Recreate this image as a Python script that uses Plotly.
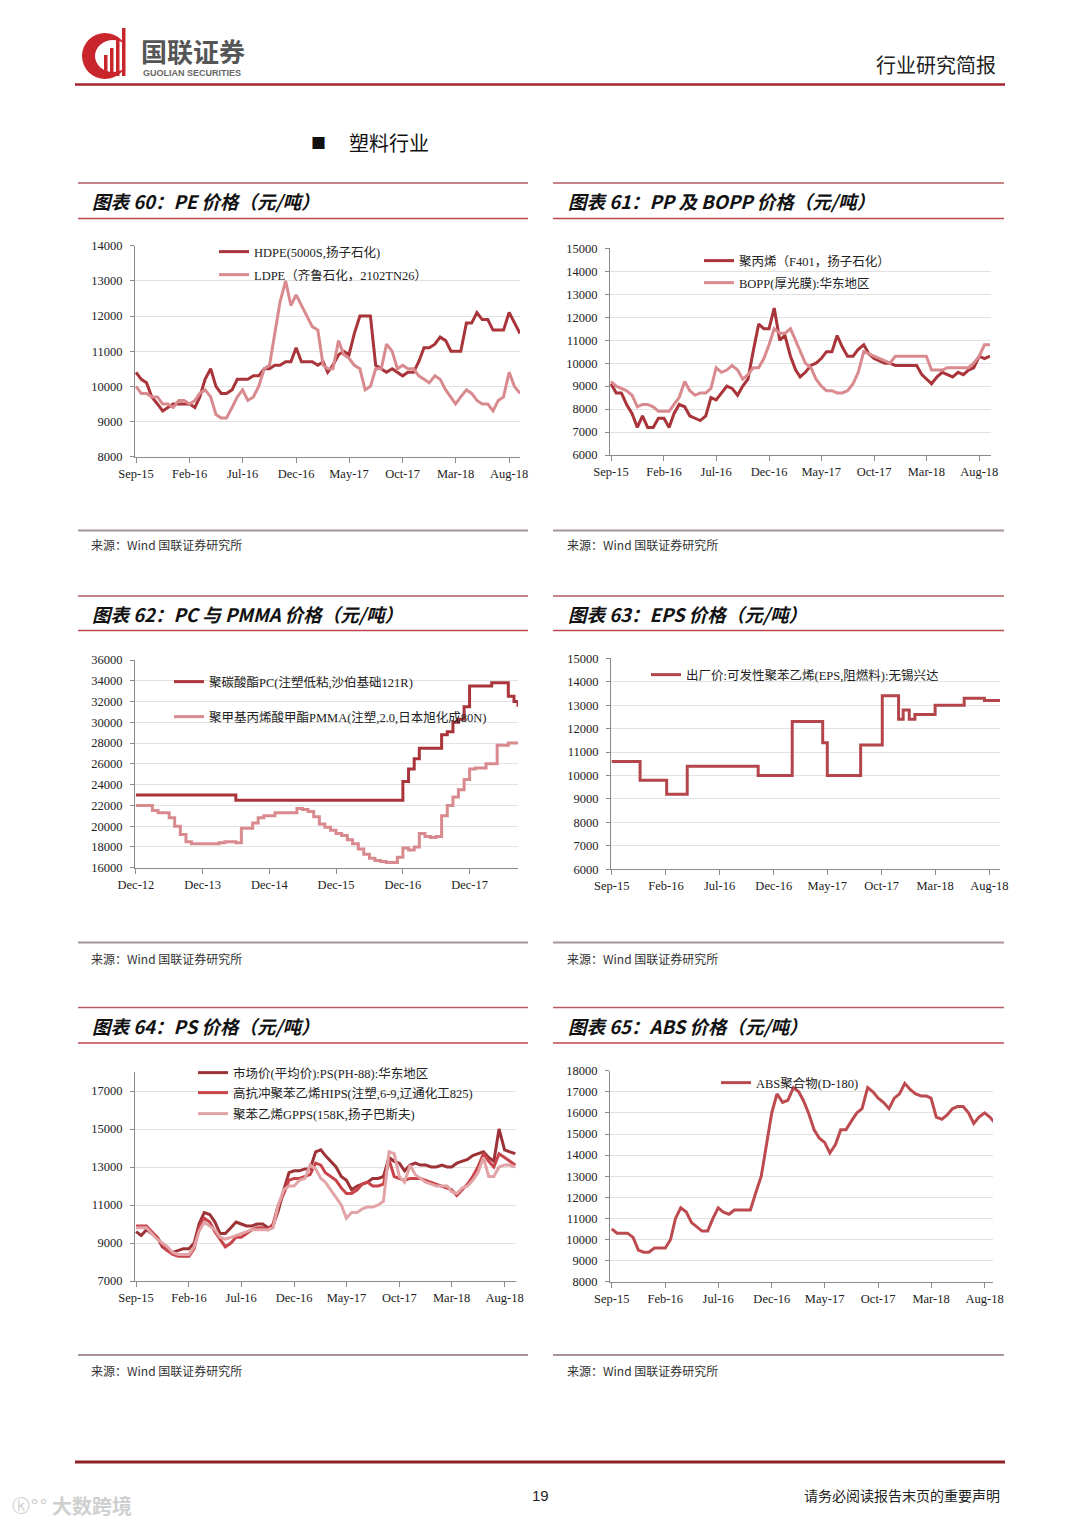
import plotly.graph_objects as go

# The page body has an 8px margin, so the figure is drawn 8px in from the top-left corner.
OFF = 8
W, H = 1080 - 2 * OFF, 1527 - 2 * OFF


def fx(p):
    return (p - OFF) / W


def fy(p):
    return 1 - (p - OFF) / H


# ---------------- dates / categories ----------------
_MONTHS_15_18 = [(2015, m) for m in range(9, 13)] + [(y, m) for y in (2016, 2017) for m in range(1, 13)] + [(2018, m) for m in range(1, 9)]
SEMI_MONTH_DATES = [f"{y}-{m:02d}-{d:02d}" for (y, m) in _MONTHS_15_18 for d in (1, 16)] + ["2018-09-01"]

_MONTHS_12_18 = [(2012, 12)] + [(y, m) for y in range(2013, 2018) for m in range(1, 13)] + [(2018, m) for m in range(1, 9)]
MONTH_DATES_PC = [f"{y}-{m:02d}-01" for (y, m) in _MONTHS_12_18] + ["2018-08-23"]

EPS_DATES = ["2015-09-01", "2015-11-20", "2016-02-03", "2016-04-01", "2016-10-18", "2017-01-22",
             "2017-04-18", "2017-05-01", "2017-08-03", "2017-10-03", "2017-11-18", "2017-12-01",
             "2017-12-18", "2018-01-03", "2018-03-01", "2018-05-22", "2018-07-18", "2018-08-31"]

TICK_DATES_15 = ["2015-09-01", "2016-02-01", "2016-07-01", "2016-12-01", "2017-05-01", "2017-10-01", "2018-03-01", "2018-08-01"]
TICK_TEXT_15 = ["Sep-15", "Feb-16", "Jul-16", "Dec-16", "May-17", "Oct-17", "Mar-18", "Aug-18"]
TICK_DATES_12 = ["2012-12-01", "2013-12-01", "2014-12-01", "2015-12-01", "2016-12-01", "2017-12-01"]
TICK_TEXT_12 = ["Dec-12", "Dec-13", "Dec-14", "Dec-15", "Dec-16", "Dec-17"]

# ---------------- series values ----------------
HDPE = [10400, 10200, 10100, 9700, 9500, 9300, 9400, 9500, 9500, 9500, 9500, 9400, 9700, 10200, 10500, 10000,
        9800, 9800, 9900, 10200, 10200, 10200, 10300, 10300, 10500, 10500, 10600, 10600, 10700, 10700, 11100, 10700,
        10700, 10700, 10600, 10700, 10400, 10600, 10900, 11000, 10900, 11500, 12000, 12000, 12000, 10600, 10500, 10400,
        10500, 10400, 10300, 10400, 10400, 10700, 11100, 11100, 11200, 11400, 11300, 11000, 11000, 11000, 11800, 11800,
        12100, 11900, 11900, 11600, 11600, 11600, 12100, 11800, 11500]
LDPE = [10000, 9800, 9800, 9700, 9700, 9500, 9500, 9400, 9600, 9600, 9500, 9600, 9800, 9900, 9700, 9200,
        9100, 9100, 9400, 9700, 9900, 9600, 9700, 10000, 10500, 10600, 11500, 12400, 13000, 12300, 12600, 12300,
        12000, 11700, 11600, 10600, 10500, 10500, 11300, 10900, 10800, 10600, 10500, 9900, 10000, 10500, 10500, 11200,
        11000, 10500, 10600, 10500, 10500, 10300, 10200, 10100, 10300, 10200, 9900, 9700, 9500, 9700, 9900, 9800,
        9600, 9500, 9500, 9300, 9600, 9700, 10400, 10000, 9800]

PP = [9100, 8700, 8700, 8200, 7800, 7200, 7700, 7200, 7200, 7600, 7600, 7200, 7800, 8200, 8100, 7700,
      7600, 7500, 7700, 8500, 8400, 8700, 9000, 8900, 8600, 9000, 9300, 10500, 11700, 11500, 11500, 12400,
      11000, 11200, 10300, 9700, 9400, 9600, 9900, 10000, 10200, 10500, 10500, 11200, 10700, 10300, 10300, 10600,
      10800, 10400, 10200, 10100, 10000, 10000, 9900, 9900, 9900, 9900, 9900, 9500, 9300, 9100, 9400, 9600,
      9500, 9400, 9600, 9500, 9700, 9800, 10300, 10200, 10300]
BOPP = [9200, 9000, 8900, 8800, 8600, 8100, 8200, 8200, 8100, 7900, 7900, 7900, 8200, 8500, 9200, 8800,
        8600, 8700, 8700, 8900, 9800, 9600, 9700, 9900, 9700, 9300, 9500, 9800, 9800, 10200, 10800, 11500,
        11300, 11300, 11500, 11000, 10500, 10000, 9800, 9300, 9000, 8800, 8800, 8700, 8700, 8800, 9100, 9600,
        10500, 10400, 10300, 10200, 10100, 10000, 10300, 10300, 10300, 10300, 10300, 10300, 10300, 9700, 9700, 9700,
        9800, 9800, 9800, 9800, 9800, 10000, 10300, 10800, 10800]

PC = [23000, 23000, 23000, 23000, 23000, 23000, 23000, 23000, 23000, 23000, 23000, 23000, 23000, 23000, 23000, 23000, 23000, 23000,
      22500, 22500, 22500, 22500, 22500, 22500, 22500, 22500, 22500, 22500, 22500, 22500, 22500, 22500, 22500,
      22500, 22500, 22500, 22500, 22500, 22500, 22500, 22500, 22500, 22500, 22500, 22500, 22500, 22500, 22500,
      24300, 25500, 26500, 27500, 27500, 27500, 27500, 28800, 29100, 30000, 30300, 31500, 33500, 33500, 33500, 33500,
      33800, 33800, 33800, 32500, 32000, 31500]
PMMA = [22000, 22000, 22000, 21500, 21300, 21300, 20800, 20000, 19200, 18500, 18300, 18300, 18300, 18300, 18300, 18400,
        18500, 18500, 18400, 19800, 19800, 20300, 20800, 21000, 21000, 21300, 21300, 21300, 21300, 21700, 21600, 21400,
        20900, 20200, 19900, 19600, 19300, 19100, 18700, 18300, 17800, 17300, 16900, 16700, 16600, 16500, 16500, 17000,
        17900, 17700, 18000, 19300, 19000, 18900, 19000, 21000, 22000, 22800, 23500, 24500, 25500, 25600, 25600, 26000,
        26000, 27800, 27800, 28000, 28000, 27900]

EPS = [10600, 9800, 9200, 10400, 10000, 12300, 11400, 10000, 11300, 13400, 12400, 12800, 12400, 12600, 13000, 13300, 13200, 13200]

PS_MARKET = [9600, 9400, 9700, 9500, 9300, 8800, 8600, 8500, 8600, 8700, 8700, 9000, 10000, 10600, 10500, 10100,
             9500, 9500, 9800, 10100, 10000, 9900, 9900, 10000, 10000, 9800, 9900, 10700, 11800, 12700, 12800, 12800,
             12900, 12900, 13800, 13900, 13600, 13300, 13000, 12500, 12300, 11800, 12000, 12100, 12200, 12400, 12400, 12500,
             13500, 13300, 13200, 12800, 13100, 13200, 13100, 13100, 13000, 13000, 13100, 13000, 13000, 13200, 13300, 13400,
             13600, 13700, 13800, 13500, 13300, 15000, 13900, 13800, 13700]
HIPS = [9900, 9900, 9900, 9600, 9300, 8900, 8600, 8400, 8300, 8300, 8300, 8700, 9800, 10300, 10100, 9600,
        9200, 8800, 9000, 9300, 9300, 9500, 9700, 9800, 9800, 9700, 10000, 11000, 11600, 12300, 12400, 12400,
        12500, 12600, 13200, 13100, 12700, 12500, 12300, 11900, 11600, 11600, 11800, 12100, 12200, 12000, 12000, 12100,
        13400, 12500, 12400, 12300, 12400, 12400, 12400, 12300, 12200, 12100, 12000, 11900, 11800, 11500, 11800, 12100,
        12500, 13000, 13700, 13300, 13000, 13700, 13500, 13300, 13100]
GPPS = [9800, 9800, 9800, 9500, 9200, 9000, 8800, 8500, 8400, 8400, 8400, 8800, 9600, 10100, 9900, 9700,
        9300, 9200, 9300, 9400, 9500, 9600, 9700, 9700, 9700, 9700, 9800, 11000, 11800, 12000, 12000, 12300,
        12400, 13100, 12900, 12400, 12200, 11800, 11400, 11000, 10300, 10600, 10600, 10800, 10900, 10900, 11000, 11200,
        13800, 13700, 12500, 12200, 13100, 12600, 12400, 12200, 12100, 12000, 12000, 12000, 11700, 11600, 11900, 12000,
        12300, 12700, 13500, 12500, 12500, 13000, 13100, 13100, 13000]

ABS = [10500, 10300, 10300, 10300, 10100, 9500, 9400, 9400, 9600, 9600, 9600, 10000, 11000, 11500, 11300, 10800,
       10600, 10400, 10400, 11000, 11500, 11300, 11200, 11400, 11400, 11400, 11400, 12200, 13000, 14500, 16000, 16900,
       16500, 16600, 17200, 17000, 16600, 16000, 15200, 14800, 14600, 14100, 14500, 15200, 15200, 15600, 16000, 16200,
       17200, 17000, 16700, 16500, 16200, 16700, 16900, 17400, 17100, 16900, 16800, 16800, 16700, 15800, 15700, 15900,
       16200, 16300, 16300, 16000, 15500, 15800, 16000, 15800, 15500]

# ---------------- texts ----------------
TITLES = ["图表 60：PE 价格（元/吨）", "图表 61：PP 及 BOPP 价格（元/吨）", "图表 62：PC 与 PMMA 价格（元/吨）",
          "图表 63：EPS 价格（元/吨）", "图表 64：PS 价格（元/吨）", "图表 65：ABS 价格（元/吨）"]
SOURCE = "来源：Wind 国联证券研究所"

DARK = "#A93439"
LIGHT = "#D98A8E"

# ---------------- chart frames (page-pixel boxes) ----------------
CHARTS = [
    dict(box=(135, 245.7, 520, 456.7), xr=("2015-08-29", "2018-09-01"), yr=(8000, 14000), dt=1000, t0=8000, tv=TICK_DATES_15, tt=TICK_TEXT_15),
    dict(box=(610, 248.3, 991, 455.0), xr=("2015-08-29", "2018-09-04"), yr=(6000, 15000), dt=1000, t0=6000, tv=TICK_DATES_15, tt=TICK_TEXT_15),
    dict(box=(135, 660.0, 518, 867.7), xr=("2012-11-26", "2018-08-23"), yr=(16000, 36000), dt=2000, t0=16000, tv=TICK_DATES_12, tt=TICK_TEXT_12),
    dict(box=(611, 658.3, 1000, 869.3), xr=("2015-08-30", "2018-08-31"), yr=(6000, 15000), dt=1000, t0=6000, tv=TICK_DATES_15, tt=TICK_TEXT_15),
    dict(box=(135, 1072.0, 516, 1281.0), xr=("2015-08-29", "2018-09-03"), yr=(7000, 18000), dt=2000, t0=7000, tv=TICK_DATES_15, tt=TICK_TEXT_15),
    dict(box=(610, 1070.7, 993, 1281.7), xr=("2015-08-27", "2018-08-25"), yr=(8000, 18000), dt=1000, t0=8000, tv=TICK_DATES_15, tt=TICK_TEXT_15),
]

# series: (chart index, x, y, name, color, shape, legend text-start x, legend center y)
SERIES = [
    (0, SEMI_MONTH_DATES, HDPE, "HDPE(5000S,扬子石化)", DARK, "linear", 256, 252),
    (0, SEMI_MONTH_DATES, LDPE, "LDPE（齐鲁石化，2102TN26）", LIGHT, "linear", 256, 275),
    (1, SEMI_MONTH_DATES, PP, "聚丙烯（F401，扬子石化）", DARK, "linear", 741, 261),
    (1, SEMI_MONTH_DATES, BOPP, "BOPP(厚光膜):华东地区", LIGHT, "linear", 741, 283),
    (2, MONTH_DATES_PC, PC, "聚碳酸酯PC(注塑低粘,沙伯基础121R)", DARK, "hv", 211, 682),
    (2, MONTH_DATES_PC, PMMA, "聚甲基丙烯酸甲酯PMMA(注塑,2.0,日本旭化成80N)", LIGHT, "hv", 211, 717),
    (3, EPS_DATES, EPS, "出厂价:可发性聚苯乙烯(EPS,阻燃料):无锡兴达", "#B4464B", "hv", 688, 675),
    (4, SEMI_MONTH_DATES, PS_MARKET, "市场价(平均价):PS(PH-88):华东地区", "#9E3337", "linear", 235, 1073),
    (4, SEMI_MONTH_DATES, HIPS, "高抗冲聚苯乙烯HIPS(注塑,6-9,辽通化工825)", "#C8434A", "linear", 235, 1093),
    (4, SEMI_MONTH_DATES, GPPS, "聚苯乙烯GPPS(158K,扬子巴斯夫)", "#E2A3A6", "linear", 235, 1114),
    (5, SEMI_MONTH_DATES, ABS, "ABS聚合物(D-180)", "#BD4A4F", "linear", 758, 1083),
]

SERIF = "Liberation Serif, 'Times New Roman', serif"
CJK = "'Noto Sans CJK SC', sans-serif"
LEG_FONT = "Liberation Serif, 'Noto Sans CJK SC', serif"

fig = go.Figure()
layout = dict(width=W, height=H, margin=dict(l=0, r=0, t=0, b=0, pad=0, autoexpand=False),
              paper_bgcolor="white", plot_bgcolor="rgba(0,0,0,0)", showlegend=True)

for i, c in enumerate(CHARTS, start=1):
    x0, y0, x1, y1 = c["box"]
    sx = "" if i == 1 else str(i)
    layout["xaxis" + sx] = dict(
        domain=[fx(x0), fx(x1)], anchor="y" + sx, type="date", range=list(c["xr"]),
        tickmode="array", tickvals=c["tv"], ticktext=c["tt"], ticks="outside", ticklen=5,
        tickcolor="#8a8a8a", showline=True, linecolor="#8a8a8a", linewidth=1, showgrid=False,
        zeroline=False, automargin=False, tickfont=dict(family=SERIF, size=12.5, color="#222"), fixedrange=True)
    layout["yaxis" + sx] = dict(
        domain=[fy(y1), fy(y0)], anchor="x" + sx, range=list(c["yr"]), tick0=c["t0"], dtick=c["dt"],
        tickformat="d", ticks="outside", ticklen=4, tickcolor="#8a8a8a", showline=True, linecolor="#8a8a8a",
        linewidth=1, showgrid=True, gridcolor="#e2e2e2", gridwidth=1, zeroline=False, ticklabelstandoff=5,
        automargin=False, tickfont=dict(family=SERIF, size=12.5, color="#222"), fixedrange=True)

for k, (ci, xs, ys, name, color, shape, lx, ly) in enumerate(SERIES, start=1):
    sx = "" if ci == 0 else str(ci + 1)
    lname = "legend" if k == 1 else f"legend{k}"
    fig.add_trace(go.Scatter(x=xs, y=ys, name=name, mode="lines",
                             line=dict(color=color, width=3, shape=shape),
                             xaxis="x" + sx, yaxis="y" + sx, legend=lname, hoverinfo="skip"))
    layout[lname] = dict(x=fx(lx - 42), y=fy(ly), xanchor="left", yanchor="middle",
                         bgcolor="rgba(0,0,0,0)", borderwidth=0, itemwidth=30,
                         font=dict(family=LEG_FONT, size=12.5, color="#222"))

# ---------------- decorations ----------------
shapes = []
annotations = []


def hline(xa, xb, y, color, width):
    shapes.append(dict(type="line", xref="paper", yref="paper", x0=fx(xa), x1=fx(xb), y0=fy(y), y1=fy(y),
                       line=dict(color=color, width=width)))


COLS = [(78, 528, 90, 89), (553, 1004, 566, 565)]
ROWS = [(183, 201, 218.5, 530.5, 544.5), (596, 613.5, 630.5, 942.5, 958), (1007.5, 1025.5, 1043, 1355, 1370)]

n = 0
for (top, ty, under, bottom, sy) in ROWS:
    for (xa, xb, tx, srcx) in COLS:
        hline(xa, xb, top, "#b45c62", 1.5)
        hline(xa, xb, under, "#b8474f", 1.5)
        hline(xa, xb, bottom, "#a8949a", 2)
        annotations.append(dict(xref="paper", yref="paper", x=fx(tx), y=fy(ty), xanchor="left", yanchor="middle",
                                text=TITLES[n], showarrow=False,
                                font=dict(family=CJK, size=18.5, color="#111", weight="bold", style="italic")))
        annotations.append(dict(xref="paper", yref="paper", x=fx(srcx), y=fy(sy), xanchor="left", yanchor="middle",
                                text=SOURCE, showarrow=False,
                                font=dict(family=CJK, size=12, color="#333")))
        n += 1

# header / footer rules
hline(75, 1005, 84.5, "#a3262a", 2.5)
hline(75, 1005, 1462, "#8e2226", 3)

# logo
shapes.append(dict(type="circle", xref="paper", yref="paper", x0=fx(82), x1=fx(128), y0=fy(79), y1=fy(33),
                   fillcolor="#c9252c", line=dict(width=0)))
shapes.append(dict(type="circle", xref="paper", yref="paper", x0=fx(95), x1=fx(131), y0=fy(72), y1=fy(40),
                   fillcolor="white", line=dict(width=0)))
for (bx, btop) in [(104, 55), (110, 48), (116, 40), (122, 28)]:
    shapes.append(dict(type="rect", xref="paper", yref="paper", x0=fx(bx), x1=fx(bx + 3.5), y0=fy(76), y1=fy(btop),
                       fillcolor="#c9252c", line=dict(width=0)))

annotations += [
    dict(xref="paper", yref="paper", x=fx(139), y=fy(50), xanchor="left", yanchor="middle", text="国联证券",
         showarrow=False, font=dict(family=CJK, size=26, color="#555", weight="bold")),
    dict(xref="paper", yref="paper", x=fx(141), y=fy(73), xanchor="left", yanchor="middle", text="GUOLIAN SECURITIES",
         showarrow=False, font=dict(family="Liberation Sans, Arial, sans-serif", size=9, color="#666", weight="bold")),
    dict(xref="paper", yref="paper", x=fx(998), y=fy(64), xanchor="right", yanchor="middle", text="行业研究简报",
         showarrow=False, font=dict(family=CJK, size=20, color="#222")),
    dict(xref="paper", yref="paper", x=fx(309), y=fy(143), xanchor="left", yanchor="middle", text="■",
         showarrow=False, font=dict(family=CJK, size=15, color="#111")),
    dict(xref="paper", yref="paper", x=fx(347), y=fy(143), xanchor="left", yanchor="middle", text="塑料行业",
         showarrow=False, font=dict(family=CJK, size=20, color="#111")),
    dict(xref="paper", yref="paper", x=fx(540), y=fy(1495), xanchor="center", yanchor="middle", text="19",
         showarrow=False, font=dict(family="Liberation Sans, Arial, sans-serif", size=15, color="#222")),
    dict(xref="paper", yref="paper", x=fx(1002), y=fy(1495), xanchor="right", yanchor="middle",
         text="请务必阅读报告末页的重要声明", showarrow=False, font=dict(family=CJK, size=14, color="#222")),
    dict(xref="paper", yref="paper", x=fx(50), y=fy(1505), xanchor="left", yanchor="middle", text="大数跨境",
         showarrow=False, font=dict(family=CJK, size=20, color="#cfcfcf", weight="bold")),
    dict(xref="paper", yref="paper", x=fx(10), y=fy(1505), xanchor="left", yanchor="middle", text="ⓚ°°",
         showarrow=False, font=dict(family="DejaVu Sans", size=18, color="#cfcfcf")),
]

layout["shapes"] = shapes
layout["annotations"] = annotations
fig.update_layout(**layout)
fig.write_html("out.html")
